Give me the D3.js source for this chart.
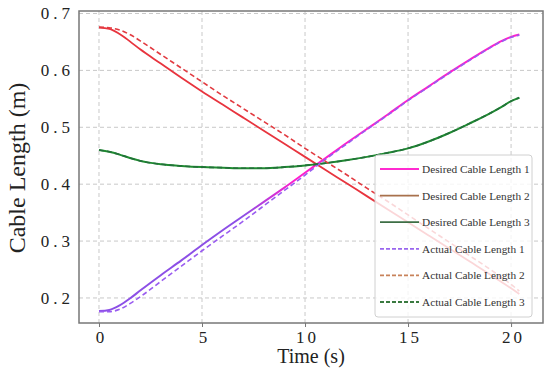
<!DOCTYPE html>
<html>
<head>
<meta charset="utf-8">
<script src="https://cdn.jsdelivr.net/npm/d3@7"></script>
<style>
  body { margin: 0; background: #fff; }
  text { font-family: "Liberation Serif", "Times New Roman", serif; }
</style>
</head>
<body>
<div id="chart"></div>
<script>
// Sample times (s)
var time = [0, 0.5, 1, 1.5, 2, 3, 4, 5, 6, 7, 8, 9, 10, 11, 12, 13, 14, 15, 16, 17, 18, 19, 19.5, 20, 20.4];

// Cable lengths (m)
var desired1 = [0.177, 0.179, 0.187, 0.199, 0.213, 0.240, 0.266, 0.293, 0.319, 0.344, 0.369, 0.394, 0.420, 0.446, 0.472, 0.497, 0.522, 0.548, 0.572, 0.596, 0.619, 0.641, 0.651, 0.659, 0.663];
var desired2 = [0.675, 0.673, 0.664, 0.651, 0.637, 0.612, 0.587, 0.563, 0.540, 0.517, 0.494, 0.471, 0.448, 0.425, 0.402, 0.379, 0.356, 0.333, 0.310, 0.287, 0.264, 0.241, 0.229, 0.217, 0.207];
var desired3 = [0.460, 0.457, 0.452, 0.446, 0.441, 0.435, 0.432, 0.430, 0.429, 0.428, 0.428, 0.430, 0.433, 0.437, 0.442, 0.448, 0.455, 0.463, 0.475, 0.490, 0.507, 0.525, 0.535, 0.546, 0.552];
var actual1  = [0.176, 0.176, 0.180, 0.190, 0.202, 0.229, 0.256, 0.283, 0.309, 0.335, 0.362, 0.389, 0.416, 0.444, 0.470, 0.496, 0.521, 0.547, 0.571, 0.595, 0.618, 0.640, 0.650, 0.658, 0.662];
var actual2  = [0.676, 0.675, 0.671, 0.663, 0.652, 0.628, 0.604, 0.580, 0.556, 0.533, 0.510, 0.487, 0.463, 0.440, 0.417, 0.393, 0.370, 0.346, 0.322, 0.298, 0.274, 0.250, 0.237, 0.224, 0.212];
var actual3  = [0.460, 0.457, 0.452, 0.446, 0.441, 0.435, 0.432, 0.430, 0.429, 0.428, 0.428, 0.430, 0.433, 0.437, 0.442, 0.448, 0.455, 0.463, 0.475, 0.490, 0.507, 0.525, 0.535, 0.546, 0.552];

var xTicks = [0, 5, 10, 15, 20];
var yTicks = [0.2, 0.3, 0.4, 0.5, 0.6, 0.7];
var seriesNames = ["Desired Cable Length 1", "Desired Cable Length 2", "Desired Cable Length 3",
                   "Actual Cable Length 1", "Actual Cable Length 2", "Actual Cable Length 3"];

var drawChart = function() {
    var width = 550, height = 372;
    var plotL = 79, plotR = 543, plotT = 11, plotB = 323;

    var svg = d3.select("#chart").append("svg")
        .attr("width", width)
        .attr("height", height);

    var x = d3.scaleLinear().domain([-0.97, 21.55]).range([plotL, plotR]);
    var y = d3.scaleLinear().domain([0.156, 0.7044]).range([plotB, plotT]);

    // gradient: desired 1 looks purple early, magenta later
    var defs = svg.append("defs");
    var grad = defs.append("linearGradient")
        .attr("id", "d1grad")
        .attr("gradientUnits", "userSpaceOnUse")
        .attr("x1", x(7)).attr("x2", x(9.5)).attr("y1", 0).attr("y2", 0);
    grad.append("stop").attr("offset", 0).attr("stop-color", "#8c4fe6");
    grad.append("stop").attr("offset", 1).attr("stop-color", "#ff1ecc");

    // grid
    var grid = svg.append("g").attr("stroke", "#c9c9c9").attr("stroke-dasharray", "4,3").attr("stroke-width", 1);
    grid.selectAll(".gx").data(xTicks).enter().append("line")
        .attr("x1", d => x(d)).attr("x2", d => x(d))
        .attr("y1", plotT).attr("y2", plotB);
    grid.selectAll(".gy").data(yTicks).enter().append("line")
        .attr("x1", plotL).attr("x2", plotR)
        .attr("y1", d => y(d)).attr("y2", d => y(d));

    // lines
    var series = [
        {v: desired1, color: "url(#d1grad)", dash: null, w: 2},
        {v: desired2, color: "#e8343e", dash: null, w: 1.8},
        {v: desired3, color: "#1f8c30", dash: null, w: 2},
        {v: actual1, color: "#9a5cf0", dash: "5,3", w: 1.6},
        {v: actual2, color: "#e23a40", dash: "5,3", w: 1.6},
        {v: actual3, color: "#22703a", dash: "5,3", w: 1.6}
    ];
    var line = d3.line().curve(d3.curveMonotoneX);
    var plot = svg.append("g");
    series.forEach(function(s) {
        plot.append("path")
            .attr("d", line(time.map((t, i) => [x(t), y(s.v[i])])))
            .attr("fill", "none")
            .attr("stroke", s.color)
            .attr("stroke-width", s.w)
            .attr("stroke-dasharray", s.dash);
    });

    // frame
    svg.append("rect")
        .attr("x", plotL).attr("y", plotT)
        .attr("width", plotR - plotL).attr("height", plotB - plotT)
        .attr("fill", "none").attr("stroke", "#777").attr("stroke-width", 1.5);

    // x axis
    var xAxis = svg.append("g")
        .attr("transform", "translate(0," + plotB + ")")
        .call(d3.axisBottom(x).tickValues(xTicks).tickSize(4).tickFormat(d3.format("d")));
    xAxis.select(".domain").remove();
    xAxis.selectAll("line").attr("stroke", "#777");
    xAxis.selectAll("text")
        .attr("font-size", 17).attr("fill", "#222")
        .attr("letter-spacing", 3).attr("dx", 2).attr("dy", "0.75em")
        .style("font-family", "Liberation Serif");

    // y axis
    var yAxis = svg.append("g")
        .attr("transform", "translate(" + plotL + ",0)")
        .call(d3.axisLeft(y).tickValues(yTicks).tickSize(0).tickPadding(6).tickFormat(d3.format(".1f")));
    yAxis.select(".domain").remove();
    yAxis.selectAll("text")
        .attr("font-size", 17).attr("fill", "#222")
        .attr("letter-spacing", 4).attr("dx", 1)
        .style("font-family", "Liberation Serif");

    // axis titles
    svg.append("text")
        .attr("x", (plotL + plotR) / 2).attr("y", 363)
        .attr("text-anchor", "middle").attr("font-size", 20).attr("fill", "#222")
        .text("Time (s)");
    svg.append("text")
        .attr("transform", "translate(25,168) rotate(-90)")
        .attr("text-anchor", "middle").attr("font-size", 24).attr("fill", "#222")
        .text("Cable Length (m)");

    // legend
    var legendColors = ["#ff2bd0", "#a8714c", "#3d6e45", "#9966ee", "#c8825a", "#3a7a40"];
    var legendDash = [null, null, null, "4,2", "4,2", "4,2"];
    var lg = svg.append("g");
    lg.append("rect")
        .attr("x", 375).attr("y", 155).attr("width", 157).attr("height", 162)
        .attr("rx", 3).attr("fill", "#fff").attr("fill-opacity", 0.8)
        .attr("stroke", "#d0d0d0").attr("stroke-width", 1);
    var items = lg.selectAll(".item").data(seriesNames).enter().append("g")
        .attr("transform", (d, i) => "translate(0," + (169 + i * 26.6) + ")");
    items.append("line")
        .attr("x1", 380).attr("x2", 419).attr("y1", 0).attr("y2", 0)
        .attr("stroke", (d, i) => legendColors[i])
        .attr("stroke-width", 1.8)
        .attr("stroke-dasharray", (d, i) => legendDash[i]);
    items.append("text")
        .attr("x", 422).attr("y", 4)
        .attr("font-size", 11.3).attr("fill", "#333")
        .text(d => d);
};

drawChart();
</script>
</body>
</html>
